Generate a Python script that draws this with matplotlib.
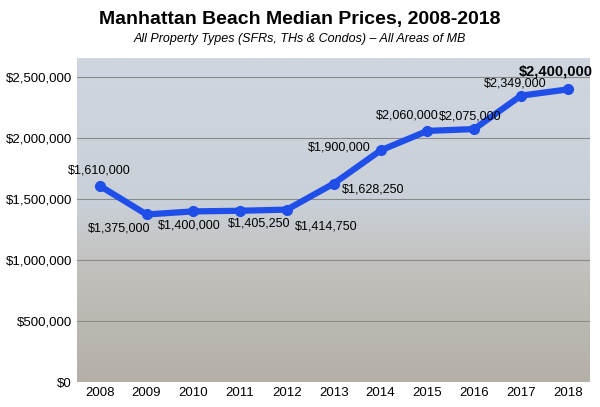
import matplotlib
matplotlib.use("Agg")
import matplotlib.pyplot as plt
import numpy as np
from matplotlib.colors import LinearSegmentedColormap

plt.rcParams["font.family"] = "Liberation Sans"

years = [2008, 2009, 2010, 2011, 2012, 2013, 2014, 2015, 2016, 2017, 2018]
prices = [1610000, 1375000, 1400000, 1405250, 1414750, 1628250, 1900000, 2060000, 2075000, 2349000, 2400000]
labels = ["$1,610,000", "$1,375,000", "$1,400,000", "$1,405,250", "$1,414,750", "$1,628,250",
          "$1,900,000", "$2,060,000", "$2,075,000", "$2,349,000", "$2,400,000"]
yticks = [0, 500000, 1000000, 1500000, 2000000, 2500000]
ytick_labels = ["$0", "$500,000", "$1,000,000", "$1,500,000", "$2,000,000", "$2,500,000"]
# offsets in pixels (dx, dy up)
offsets_px = [(0, 15), (-27, -14), (-4, -14), (19, -13), (39, -17), (39, -6),
              (-41, 3), (-20, 15), (-4, 13), (-6, 12), (-12, 18)]

fig = plt.figure(figsize=(6, 4.07), dpi=100)
fig.patch.set_facecolor("white")
ax = fig.add_axes([0.128, 0.061, 0.855, 0.796])
ymax = 2656000
ax.set_xlim(2007.51, 2018.47)
ax.set_ylim(0, ymax)
grad = np.linspace(0, 1, 256).reshape(-1, 1)
cmap = LinearSegmentedColormap.from_list("bg", [(0, "#b4b0a8"), (0.35, "#c2c0bc"), (0.55, "#c9d0d8"), (1, "#cfd6df")])
ax.imshow(grad, aspect="auto", cmap=cmap, origin="lower",
          extent=[2007.51, 2018.47, 0, ymax], zorder=0)
for y in yticks[1:]:
    ax.axhline(y, color="#8a8a8a", lw=0.8, zorder=1)
ax.plot(years, prices, color="#1f4fe8", lw=4.5, marker="o", ms=7, zorder=3)
for i, (x, y, l, o) in enumerate(zip(years, prices, labels, offsets_px)):
    bold = i == len(years) - 1
    ax.annotate(l, (x, y), xytext=(o[0] * 0.72, o[1] * 0.72), textcoords="offset points",
                ha="center", va="center",
                fontsize=10.5 if bold else 9, fontweight="bold" if bold else "normal", zorder=4)
ax.set_xticks(years)
ax.set_xticklabels([str(y) for y in years], fontsize=9.5)
ax.set_yticks(yticks)
ax.set_yticklabels(ytick_labels, fontsize=9.5)
ax.tick_params(length=0)
for s in ax.spines.values():
    s.set_visible(False)
fig.text(0.5, 0.952, "Manhattan Beach Median Prices, 2008-2018", ha="center", va="center",
         fontsize=14, fontweight="bold")
fig.text(0.5, 0.905, "All Property Types (SFRs, THs & Condos) \u2013 All Areas of MB", ha="center",
         va="center", fontsize=9, style="italic")
fig.savefig("out.png", dpi=100)
